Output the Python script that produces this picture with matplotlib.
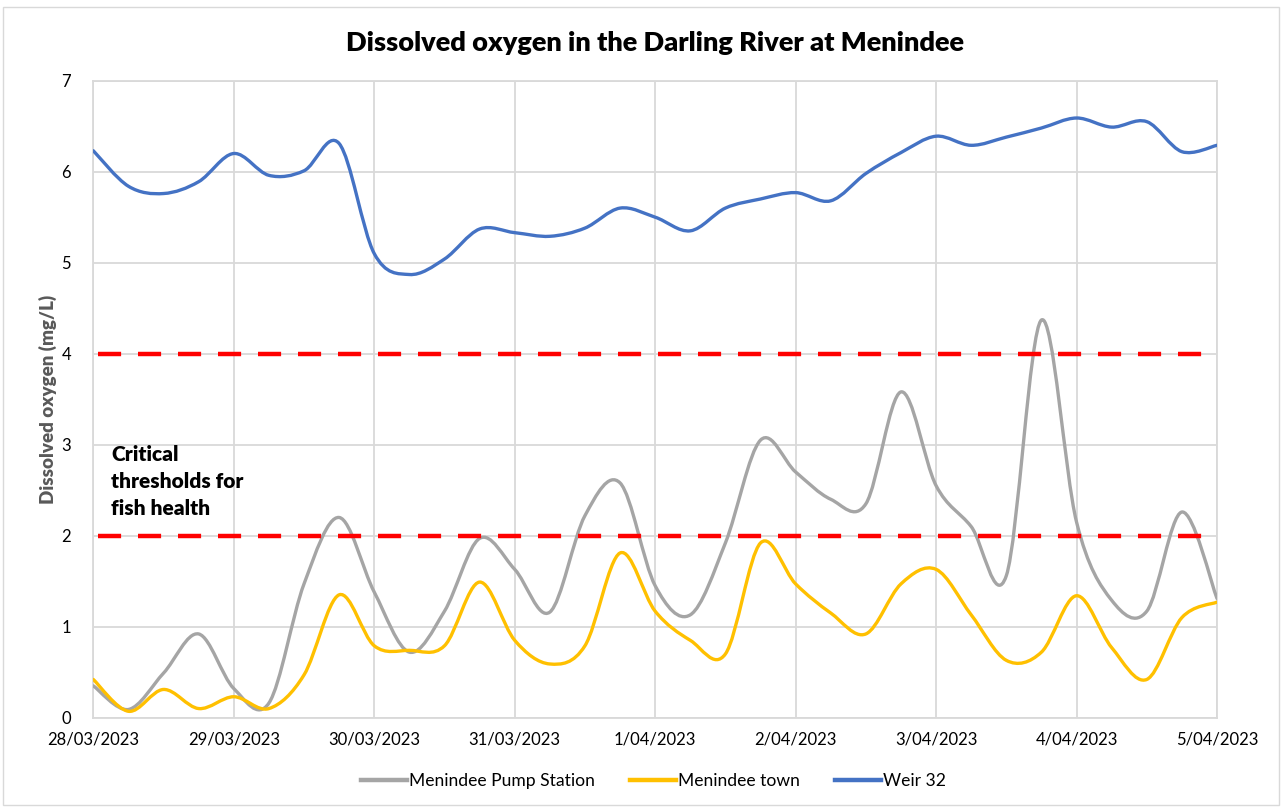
import numpy as np
import pandas as pd
import matplotlib
matplotlib.use("Agg")
import matplotlib.pyplot as plt
import matplotlib.dates as mdates
from matplotlib.path import Path
from matplotlib.patches import PathPatch, Rectangle
from matplotlib.lines import Line2D

plt.rcParams['font.family'] = ['Lato', 'DejaVu Sans']

# 6-hourly readings, 28/03/2023 00:00 to 5/04/2023 00:00
times = pd.date_range('2023-03-28', '2023-04-05', freq='6h')

pump_station = [0.35, 0.09, 0.49, 0.92, 0.32, 0.16, 1.47, 2.20, 1.38,
                0.72, 1.17, 1.97, 1.63, 1.16, 2.22, 2.58, 1.45,
                1.13, 1.92, 3.05, 2.70, 2.40, 2.35, 3.58, 2.55,
                2.10, 1.56, 4.37, 2.15, 1.29, 1.17, 2.26, 1.31]
town = [0.42, 0.07, 0.31, 0.10, 0.23, 0.10, 0.47, 1.35, 0.79,
        0.74, 0.79, 1.49, 0.85, 0.59, 0.79, 1.81, 1.17,
        0.85, 0.70, 1.92, 1.47, 1.15, 0.92, 1.47, 1.63,
        1.13, 0.63, 0.72, 1.34, 0.77, 0.42, 1.10, 1.27]
weir32 = [6.23, 5.84, 5.76, 5.89, 6.20, 5.96, 6.01, 6.31, 5.10,
          4.87, 5.04, 5.37, 5.33, 5.29, 5.38, 5.60, 5.50,
          5.35, 5.60, 5.70, 5.77, 5.68, 5.98, 6.21, 6.39,
          6.29, 6.38, 6.48, 6.59, 6.49, 6.55, 6.22, 6.29]

thresholds = [4, 2]
tick_dates = ['28/03/2023', '29/03/2023', '30/03/2023', '31/03/2023', '1/04/2023',
              '2/04/2023', '3/04/2023', '4/04/2023', '5/04/2023']

series = [('Menindee Pump Station', pump_station, '#A5A5A5'),
          ('Menindee town', town, '#FFC000'),
          ('Weir 32', weir32, '#4472C4')]


def smooth_path(x, y):
    # Excel-style smoothed line: Catmull-Rom segments as cubic Beziers
    pts = np.column_stack([x, y])
    p = np.vstack([pts[0], pts, pts[-1]])
    verts = [pts[0]]
    codes = [Path.MOVETO]
    for i in range(1, len(p) - 2):
        c1 = p[i] + (p[i + 1] - p[i - 1]) / 6
        c2 = p[i + 1] - (p[i + 2] - p[i]) / 6
        verts += [c1, c2, p[i + 1]]
        codes += [Path.CURVE4] * 3
    return Path(verts, codes)


fig = plt.figure(figsize=(12.82, 8.07), dpi=100)
ax = fig.add_axes([0.0728, 0.1107, 0.8765, 0.7893])

x = mdates.date2num(times.to_pydatetime())
for name, vals, color in series:
    ax.add_patch(PathPatch(smooth_path(x, vals), fill=False, edgecolor=color,
                           lw=2.4, capstyle='round', joinstyle='round', zorder=3))

for t in thresholds:
    ax.plot([x[0] + 0.03, x[-1] - 0.1], [t, t], color='#FF0000', lw=3.2,
            dashes=(5.2, 3.8), zorder=4)

ax.set_xlim(x[0], x[-1])
ax.set_ylim(0, 7)
tick_pos = mdates.date2num(pd.to_datetime(tick_dates, format='%d/%m/%Y').to_pydatetime())
ax.set_xticks(tick_pos)
ax.set_xticklabels(tick_dates)
ax.set_yticks(range(0, 8))
ax.tick_params(length=0, labelsize=12, colors='#000000')
ax.tick_params(axis='x', pad=10)
ax.tick_params(axis='y', pad=16)
ax.grid(True, color='#D9D9D9', lw=1.3)
ax.set_axisbelow(True)
for s in ax.spines.values():
    s.set_color('#D9D9D9')
    s.set_linewidth(1.3)

ax.set_ylabel('Dissolved oxygen (mg/L)', fontsize=13.5, fontweight='heavy',
              color='#595959', labelpad=3)
ax.text(0.5, 1.041, 'Dissolved oxygen in the Darling River at Menindee',
        transform=ax.transAxes, ha='center', va='bottom', fontsize=19.5,
        fontweight='heavy')
ax.text(0.0158, 0.428, 'Critical\nthresholds for\nfish health', transform=ax.transAxes,
        ha='left', va='top', fontsize=15, fontweight='heavy', linespacing=1.5)

handles = [Line2D([], [], color=c, lw=3.2) for _, _, c in series]
fig.legend(handles, [n for n, _, _ in series], loc='center', bbox_to_anchor=(0.51, 0.032),
           ncol=3, frameon=False, fontsize=12.6, handlelength=2.6, handletextpad=0.15,
           columnspacing=2.0)

fig.add_artist(Rectangle((0.002, 0.002), 0.996, 0.989, transform=fig.transFigure,
                         fill=False, edgecolor='#D9D9D9', lw=1))

fig.savefig('out.png', dpi=100)
